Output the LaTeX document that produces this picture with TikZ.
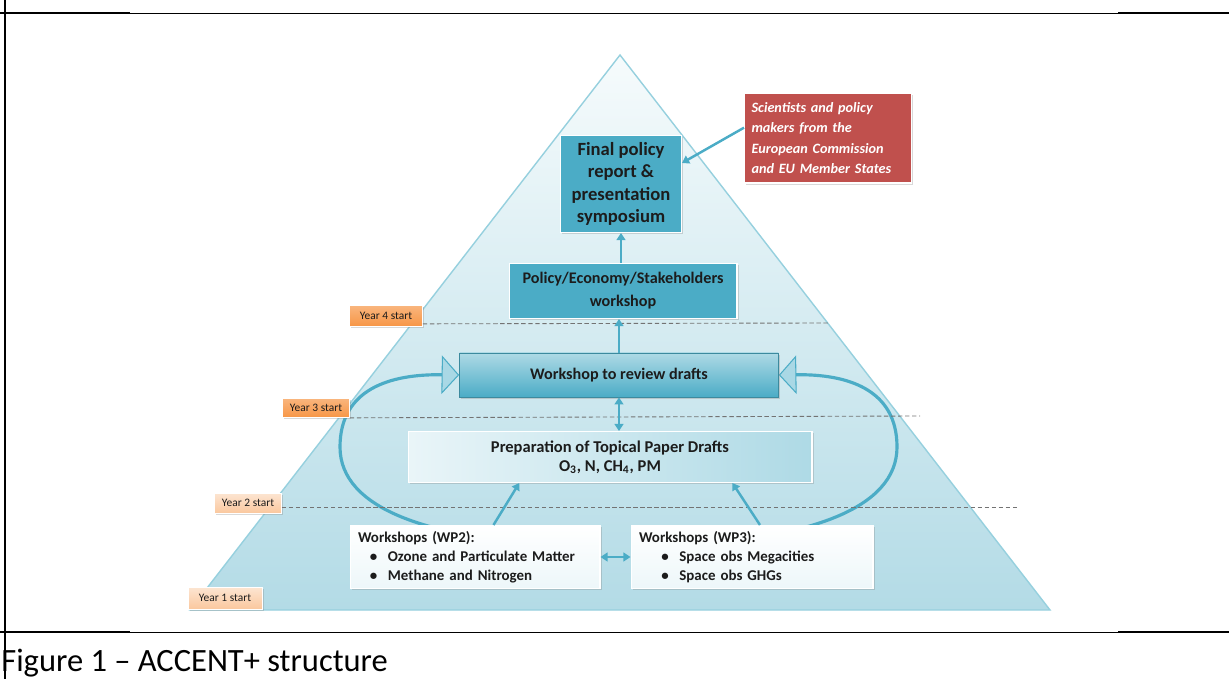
\documentclass[tikz,border=0pt]{standalone}
\usepackage{fontspec}
\setmainfont{Carlito}
\usetikzlibrary{arrows.meta,shadows,backgrounds}
\definecolor{acc}{HTML}{4BACC6}
\definecolor{acclight}{HTML}{A9D8E5}
\definecolor{pyrtop}{HTML}{F6FBFC}
\definecolor{pyrbot}{HTML}{B3DBE6}
\definecolor{pyredge}{HTML}{96D0DE}
\definecolor{redbox}{HTML}{C0504D}
\definecolor{orng}{HTML}{F79646}
\definecolor{peach}{HTML}{FBD4B4}
\definecolor{txt}{HTML}{1C1C1C}
\tikzset{
  shad/.style={drop shadow={opacity=0.3,shadow xshift=1pt,shadow yshift=-1pt}},
  box/.style={shad,draw=white,line width=0.6pt,inner sep=2pt,text=txt,font=\bfseries,align=center},
  yearbox/.style={shad,draw=white,line width=0.4pt,inner sep=0pt,text=txt,
    font=\fontsize{6.5}{7.5}\selectfont},
  yearline/.style={draw=black!55,line width=0.5pt,dash pattern=on 2.5pt off 1.5pt},
  link/.style={draw=acc,line width=1.4pt,-{Triangle[width=5pt,length=4pt]}},
  both/.style={draw=acc,line width=1.4pt,{Triangle[width=5pt,length=4pt]}-{Triangle[width=5pt,length=4pt]}},
  loop/.style={draw=acc,line width=1.8pt,-{Triangle[width=22pt,length=10pt,fill=acclight,line width=0.6pt]}}
}
\begin{document}
\begin{tikzpicture}[x=0.02cm,y=0.02cm]
\useasboundingbox (0,0) rectangle (1229,679);
% frame and caption
\draw[line width=0.5pt] (0,666) -- (1229,666) (0,47) -- (1229,47);
\draw[line width=1.4pt] (0,666) -- (130,666) (1118,666) -- (1229,666)
  (0,47) -- (130,47) (1118,47) -- (1229,47);
\draw[line width=0.6pt] (5,679) -- (5,0);
\node[anchor=base west,inner sep=0pt,font=\fontsize{18.5}{22}\selectfont] (cap) at (1,8)
  {Figure 1 – ACCENT+ structure};
% pyramid
\begin{pgfonlayer}{background}
\draw[pyredge,line width=0.8pt,top color=pyrtop,bottom color=pyrbot]
  (190,69) -- (620,624) -- (1050,69) -- cycle;
\end{pgfonlayer}
% year labels
\node[yearbox,top color=orng!70!white,bottom color=orng,minimum width=1.46cm,minimum height=0.42cm] (y4) at (386,363) {Year 4 start};
\node[yearbox,top color=orng!70!white,bottom color=orng,minimum width=1.34cm,minimum height=0.38cm] (y3) at (316,271) {Year 3 start};
\node[yearbox,top color=peach!60!white,bottom color=peach!80!orng,minimum width=1.34cm,minimum height=0.40cm] (y2) at (248,176) {Year 2 start};
\node[yearbox,top color=peach!60!white,bottom color=peach!80!orng,minimum width=1.48cm,minimum height=0.44cm] (y1) at (225,81) {Year 1 start};
\draw[yearline] (y4.south east) ++(0,3) -- (830,356);
\draw[yearline] (y3.south east) -- (920,263);
\draw[yearline] (y2.east) ++(0,-4) -- (1018,172);
% boxes
\node[box,fill=acc,minimum width=2.42cm,minimum height=1.94cm,
  font=\bfseries\fontsize{10.6}{12.6}\selectfont] (final) at (621,495)
  {Final policy\\report \&\\presentation\\symposium};
\node[box,fill=redbox,text=white,align=left,minimum width=3.34cm,minimum height=1.8cm,
  text width=3.06cm,font=\bfseries\itshape\fontsize{8.1}{11.6}\selectfont] (sci) at (828,541)
  {Scientists and policy\\makers from the\\European Commission\\and EU Member States};
\node[box,fill=acc,minimum width=4.56cm,minimum height=1.1cm,
  font=\bfseries\fontsize{9.2}{13}\selectfont] (policy) at (623,388)
  {Policy/Economy/Stakeholders\\workshop};
\node[box,top color=acc!45!white,bottom color=acc,draw=acc!80!black,line width=0.4pt,
  minimum width=6.38cm,minimum height=0.88cm,
  font=\bfseries\fontsize{9.2}{11}\selectfont] (review) at (619,304)
  {Workshop to review drafts};
\node[box,left color=acc!12!white,right color=acc!45!white,minimum width=8.08cm,minimum height=1.02cm,
  font=\bfseries\fontsize{9.4}{11}\selectfont] (prep) at (610,222)
  {Preparation of Topical Paper Drafts\\O\textsubscript{3}, N, CH\textsubscript{4}, PM};
\node[box,top color=white,bottom color=acc!10!white,align=left,text width=4.68cm,
  minimum width=5cm,minimum height=1.26cm,inner xsep=0.16cm,
  font=\bfseries\fontsize{8.5}{10.8}\selectfont] (wp2) at (475,122)
  {Workshops (WP2):\\\hspace*{0.8em}\textbullet\hspace{0.7em}Ozone and Particulate Matter\\
   \hspace*{0.8em}\textbullet\hspace{0.7em}Methane and Nitrogen};
\node[box,top color=white,bottom color=acc!10!white,align=left,text width=4.52cm,
  minimum width=4.84cm,minimum height=1.26cm,inner xsep=0.16cm,
  font=\bfseries\fontsize{8.5}{10.8}\selectfont] (wp3) at (752,122)
  {Workshops (WP3):\\\hspace*{1.5em}\textbullet\hspace{0.7em}Space obs Megacities\\
   \hspace*{1.5em}\textbullet\hspace{0.7em}Space obs GHGs};
% connectors
\draw[link] (sci.173) -- (final.19);
\draw[link] (policy.north -| final.south) -- (final.south);
\draw[link] (review.north) -- (review.north |- policy.south);
\draw[both] (review.south) -- (review.south |- prep.north);
\draw[link] (wp2.60) -- (prep.196);
\draw[link] (wp3.76) -- (prep.348);
\draw[both] (wp2.east) -- (wp3.west);
% feedback loops, starting behind the workshop boxes
\coordinate (lstart) at (560,135);
\coordinate (rstart) at (680,135);
\begin{pgfonlayer}{background}
\draw[loop] (lstart) .. controls (430,140) and (340,170) .. (340,232)
  .. controls (340,290) and (390,305) .. (review.west);
\draw[loop] (rstart) .. controls (807,140) and (897,170) .. (897,232)
  .. controls (897,290) and (847,305) .. (review.east);
\end{pgfonlayer}
\end{tikzpicture}
\end{document}
